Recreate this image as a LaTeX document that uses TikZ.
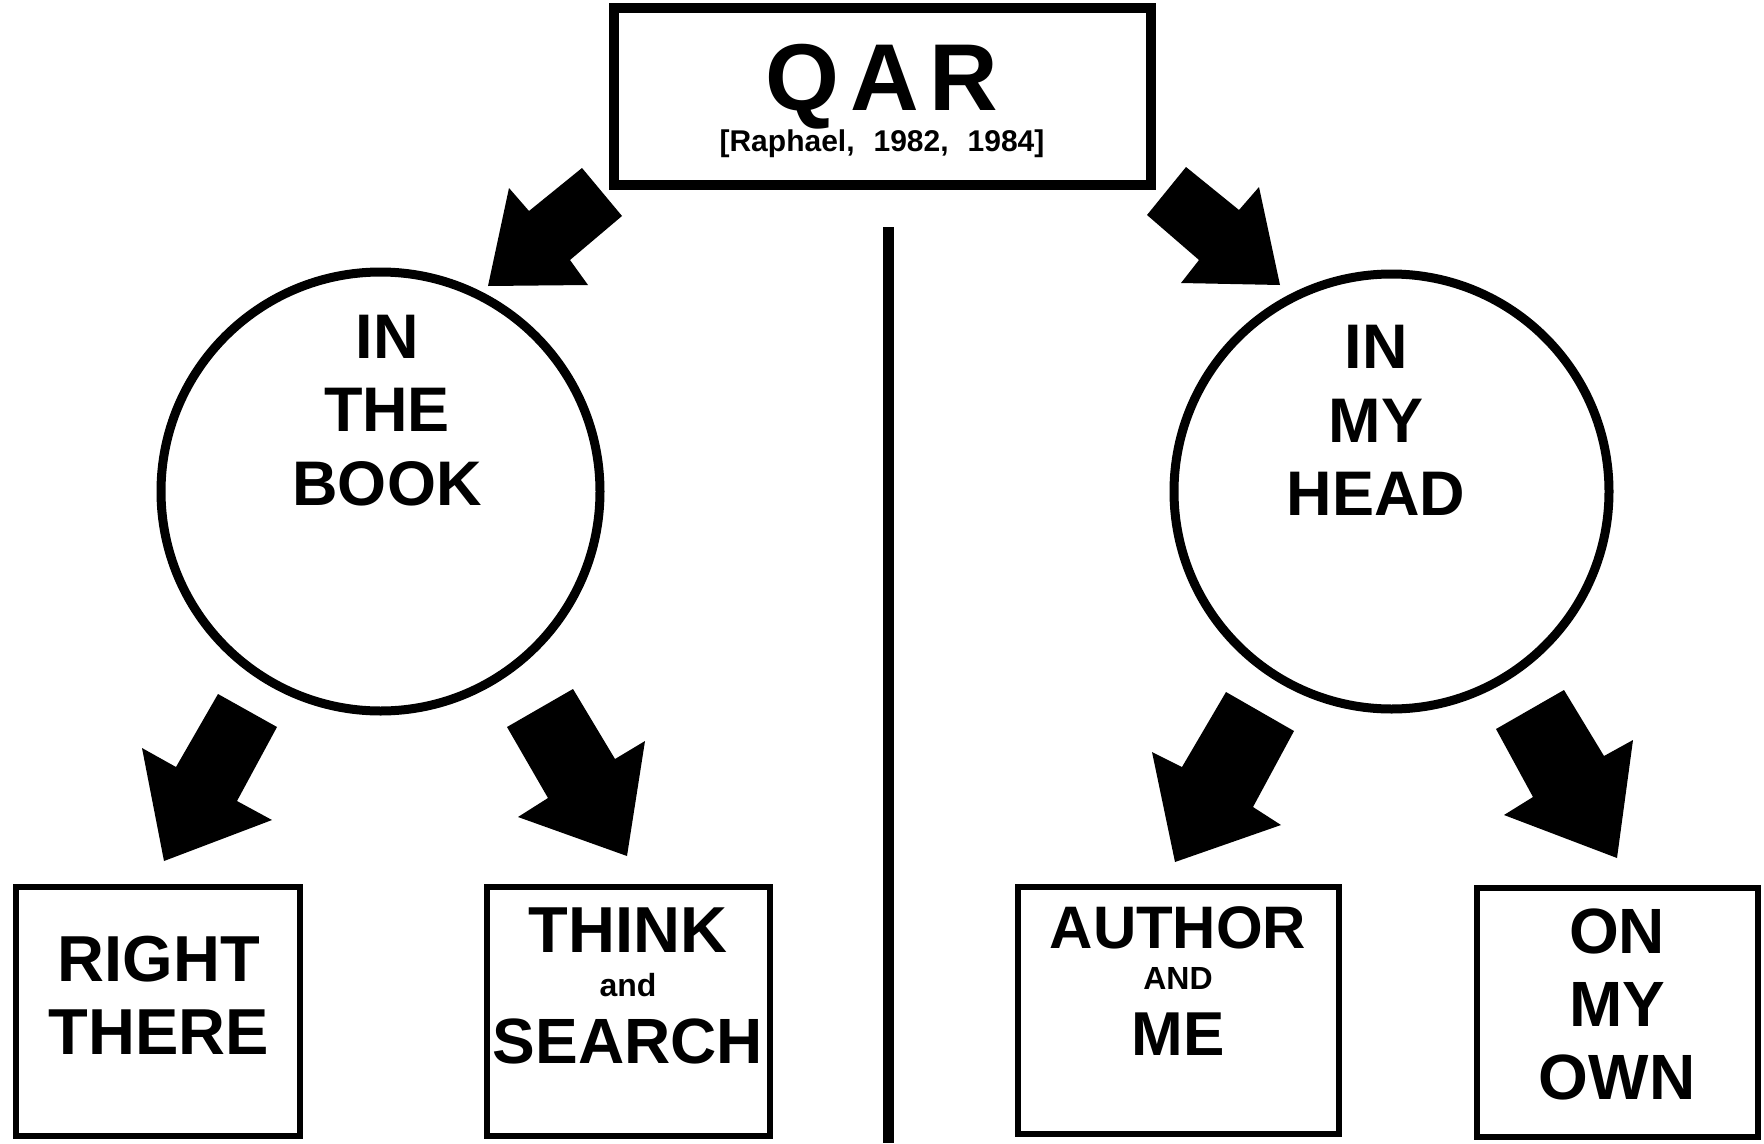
\documentclass[tikz,border=0pt]{standalone}
\usepackage{fontspec}
\setmainfont{Liberation Sans}
\newcommand\qsize[1]{\fontsize{#1pt}{#1pt}\selectfont\bfseries}
\begin{document}
\begin{tikzpicture}[x=1pt,y=-1pt,
  boxframe/.style={draw=black,line width=#1,inner sep=0pt,outer sep=0pt},
  ring/.style={draw=black,line width=9pt,circle,inner sep=0pt,minimum size=#1},
  word/.style={anchor=base,inner sep=0pt,font=\qsize{#1}},
  blockarrow/.style={fill=black}]
\useasboundingbox (0,0) rectangle (1764,1143);
\fill[white] (0,0) rectangle (1764,1143);

% title box
\node[boxframe=10pt,minimum width=537pt,minimum height=177pt] (qar) at (882.5,96.5) {};
\node[word=95] (qartitle) at (882,110) {Q\hspace{11pt}A\hspace{11pt}R};
\node[word=30] (qarref) at (882,151) {[Raphael,\hspace{19pt}1982,\hspace{19pt}1984]};

% divider
\coordinate (divtop) at (888,227);
\coordinate (divbot) at (888,1143);
\draw[line width=11pt] (divtop) -- (divbot);

% the two circles
\node[ring=439pt] (book) at (380.5,491.5) {};
\node[ring=435pt] (head) at (1391.5,491.5) {};
\node[word=63] (b1) at (387,358) {IN};
\node[word=63] (b2) at (387,431) {THE};
\node[word=63] (b3) at (387,505) {BOOK};
\node[word=63] (h1) at (1376,368) {IN};
\node[word=63] (h2) at (1376,442) {MY};
\node[word=63] (h3) at (1376,515) {HEAD};

% the four answer boxes
\node[boxframe=5.5pt,minimum width=284pt,minimum height=249pt] (right) at (158,1011.5) {};
\node[boxframe=5.5pt,minimum width=283pt,minimum height=249pt] (think) at (628.5,1011.5) {};
\node[boxframe=5.5pt,minimum width=321pt,minimum height=247pt] (author) at (1178.5,1010.5) {};
\node[boxframe=5.5pt,minimum width=281pt,minimum height=249pt] (own) at (1617.5,1012.5) {};

\node[word=65] (r1) at (159,981) {RIGHT};
\node[word=65] (r2) at (159,1054) {THERE};
\node[word=65] (t1) at (628,952) {THINK};
\node[word=32] (t2) at (628,996) {and};
\node[word=64] (t3) at (628,1063) {SEARCH};
\node[word=60] (a1) at (1178,948) {AUTHOR};
\node[word=32] (a2) at (1178,989) {AND};
\node[word=62] (a3) at (1178,1055) {ME};
\node[word=64] (o1) at (1617,953) {ON};
\node[word=64] (o2) at (1617,1026) {MY};
\node[word=64] (o3) at (1617,1099) {OWN};

% block arrows
\fill[blockarrow] (582,168) -- (622,216) -- (570,260) -- (588,285) -- (488,286) -- (509,188) -- (529,211) -- cycle;
\fill[blockarrow] (1186,167) -- (1147,215) -- (1199,260) -- (1181,283) -- (1280,285) -- (1259,187) -- (1239,210) -- cycle;
\fill[blockarrow] (218,694) -- (277,727) -- (237,801) -- (272,820) -- (164,861) -- (142,748) -- (176,767) -- cycle;
\fill[blockarrow] (507,727) -- (573,689) -- (615,759) -- (645,741) -- (627,856) -- (518,817) -- (548,798) -- cycle;
\fill[blockarrow] (1226,692) -- (1294,731) -- (1253,807) -- (1281,825) -- (1175,862) -- (1152,752) -- (1182,767) -- cycle;
\fill[blockarrow] (1496,729) -- (1564,690) -- (1604,756) -- (1633,740) -- (1617,858) -- (1504,815) -- (1533,797) -- cycle;
\end{tikzpicture}
\end{document}
